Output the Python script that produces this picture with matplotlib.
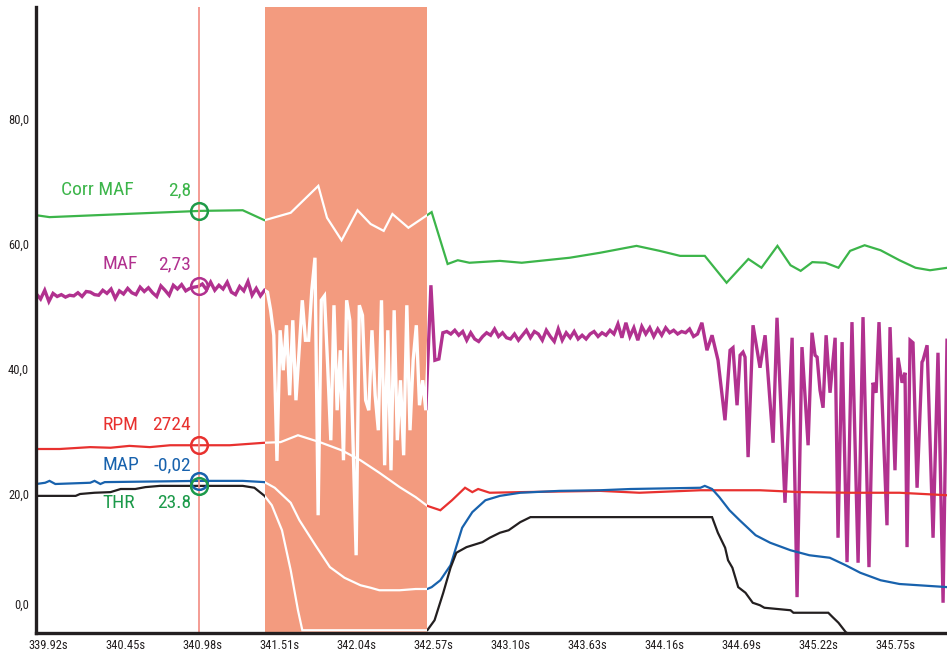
#Gráfico de log do motor: Corr MAF, MAF, RPM, MAP e THR com cursor e faixa destacada
import matplotlib.pyplot as plt
import matplotlib.transforms as mtransforms
from matplotlib import font_manager
import numpy as np

#Procura uma fonte estreita instalada
nomes = {f.name for f in font_manager.fontManager.ttflist}
estreitas = [n for n in ['Liberation Sans Narrow', 'Roboto Condensed', 'Open Sans Condensed',
                         'DejaVu Sans Condensed', 'Noto Sans Condensed'] if n in nomes]
if estreitas:
    plt.rcParams['font.family'] = [estreitas[0], 'DejaVu Sans']
else:
    plt.rcParams['font.family'] = ['DejaVu Sans']
    plt.rcParams['font.stretch'] = 'condensed'

#Eixos
x_ticks = [339.92, 340.45, 340.98, 341.51, 342.04, 342.57, 343.10, 343.63, 344.16, 344.69, 345.22, 345.75]
x_labels = ['339.92s', '340.45s', '340.98s', '341.51s', '342.04s', '342.57s',
            '343.10s', '343.63s', '344.16s', '344.69s', '345.22s', '345.75s']
y_ticks = [0, 20, 40, 60, 80]
y_labels = ['0,0', '20,0', '40,0', '60,0', '80,0']

cursor_t = 340.96
faixa = (341.41, 342.53)

#Corr MAF
corr_t = [339.84, 339.93, 340.97, 341.26, 341.41, 341.59, 341.78, 341.84, 341.94, 342.05, 342.14,
          342.23, 342.29, 342.40, 342.56, 342.67, 342.74, 342.82, 343.03, 343.18, 343.51, 343.72,
          343.97, 344.13, 344.27, 344.44, 344.59, 344.74, 344.83, 344.94, 345.03, 345.10, 345.18,
          345.27, 345.36, 345.44, 345.54, 345.65, 345.78, 345.89, 345.99, 346.11]
corr_v = [64.6, 64.3, 65.3, 65.4, 63.8, 65.0, 69.3, 64.2, 60.6, 65.4, 63.2,
          62.1, 64.8, 62.6, 65.1, 56.8, 57.4, 57.0, 57.3, 57.0, 57.8, 58.6,
          59.7, 58.9, 58.1, 58.1, 53.8, 57.6, 56.2, 59.7, 56.6, 55.7, 57.1,
          57.0, 56.2, 58.9, 59.8, 59.0, 57.4, 56.2, 55.8, 56.2]

#MAF (trechos)
maf_ini = [52.0, 51.2, 52.6, 50.8, 52.1, 51.6, 51.9, 51.5, 51.8, 51.7,
           52.2, 51.6, 52.4, 52.3, 51.9, 51.8, 52.6, 52.1, 52.8, 51.3,
           52.5, 52.0, 52.9, 52.2, 51.9, 53.1, 52.4, 53.0, 52.2, 51.6,
           53.3, 52.6, 51.8, 53.4, 52.8, 53.5, 52.5, 52.9, 53.1, 53.2,
           53.6, 52.7, 53.9, 52.6, 53.4, 52.8, 53.9, 52.3, 51.9, 53.2,
           52.5, 54.0, 51.8, 52.9, 51.7, 52.6]
maf_faixa = [52.3, 49.4, 45.4, 25.3, 46.2, 39.8, 47.0, 35.8, 47.8, 35.0,
             43.0, 51.0, 44.6, 44.6, 52.6, 57.8, 16.6, 51.0, 51.7, 40.6,
             28.6, 50.2, 33.4, 43.0, 25.4, 51.0, 47.8, 28.6, 10.2, 50.2,
             48.6, 35.0, 33.4, 46.2, 35.8, 30.2, 51.0, 24.6, 46.2, 23.8,
             49.4, 28.6, 38.2, 26.2, 50.2, 30.2, 41.4, 47.0, 34.2, 38.2, 33.4]
maf_meio = [53.4, 41.4, 41.6, 45.8, 46.0, 45.6, 46.2, 45.4, 46.0, 44.6,
            45.8, 44.8, 44.4, 45.2, 45.8, 45.4, 46.4, 45.2, 45.8, 45.0,
            44.8, 45.6, 44.6, 45.4, 46.2, 45.0, 46.0, 45.6, 44.6, 46.2,
            45.2, 44.4, 46.4, 44.6, 45.8, 45.0, 46.0, 44.8, 45.4, 44.8,
            45.6, 46.0, 45.2, 45.8, 45.4, 46.2, 45.6, 47.2, 45.0, 47.4,
            45.2, 46.6, 44.6, 46.8, 45.6, 46.6, 45.2, 46.4, 45.4, 46.6,
            45.8, 46.2, 45.6, 46.0, 45.8, 46.4, 45.2, 45.6]
maf_fim_t = [344.42, 344.455, 344.49, 344.531, 344.579, 344.614, 344.634, 344.662, 344.683, 344.703,
             344.717, 344.738, 344.772, 344.82, 344.855, 344.91, 344.937, 344.992, 345.041, 345.075,
             345.109, 345.151, 345.178, 345.199, 345.213, 345.233, 345.254, 345.275, 345.302, 345.337,
             345.357, 345.385, 345.419, 345.453, 345.495, 345.529, 345.57, 345.598, 345.619, 345.639,
             345.694, 345.715, 345.749, 345.77, 345.798, 345.818, 345.832, 345.853, 345.873, 345.901,
             345.935, 345.942, 345.97, 346.011, 346.045, 346.08, 346.107]
maf_fim_v = [47.4, 43.0, 45.4, 41.4, 31.8, 43.0, 43.4, 34.2, 42.2, 42.7,
             41.9, 25.9, 47.0, 40.2, 45.4, 28.2, 48.2, 18.6, 45.0, 3.5,
             43.5, 27.8, 45.8, 42.2, 41.9, 36.6, 33.8, 45.4, 36.2, 45.0,
             13.0, 44.3, 9.1, 47.5, 9.0, 48.3, 8.3, 37.8, 36.2, 47.5,
             15.0, 46.7, 23.8, 41.8, 37.8, 39.4, 11.5, 44.6, 44.2, 21.0,
             41.1, 41.4, 43.8, 13.0, 42.6, 2.6, 44.6]

maf_t = np.concatenate([np.linspace(339.84, 341.41, len(maf_ini)),
                        np.linspace(341.43, 342.52, len(maf_faixa)),
                        np.linspace(342.555, 344.39, len(maf_meio)),
                        maf_fim_t])
maf_v = np.concatenate([maf_ini, maf_faixa, maf_meio, maf_fim_v])

#RPM
rpm_t = [339.84, 340.00, 340.21, 340.35, 340.48, 340.62, 340.76, 340.97, 341.17, 341.41, 341.52,
         341.64, 341.79, 341.94, 342.07, 342.20, 342.34, 342.45, 342.53, 342.62, 342.70, 342.79,
         342.84, 342.88, 342.96, 343.17, 343.72, 343.99, 344.41, 344.82, 345.10, 345.44, 345.78, 346.11]
rpm_v = [27.2, 27.2, 27.5, 27.4, 27.7, 27.5, 27.8, 27.8, 27.8, 28.2, 28.3,
         29.4, 28.3, 27.0, 25.4, 23.4, 21.1, 19.5, 18.1, 17.4, 19.0, 21.0,
         20.3, 20.8, 20.2, 20.3, 20.5, 20.2, 20.6, 20.6, 20.3, 20.2, 20.2, 19.8]

#MAP
map_t = [339.84, 339.90, 339.93, 339.97, 340.21, 340.24, 340.28, 340.31, 340.97, 341.26, 341.41,
         341.48, 341.59, 341.65, 341.76, 341.86, 341.96, 342.07, 342.14, 342.20, 342.34, 342.45,
         342.53, 342.56, 342.62, 342.69, 342.77, 342.84, 342.93, 343.03, 343.17, 343.44, 343.72,
         343.93, 344.41, 344.44, 344.49, 344.54, 344.61, 344.68, 344.79, 344.89, 345.03, 345.16,
         345.30, 345.41, 345.51, 345.65, 345.78, 346.11]
map_v = [21.6, 21.8, 22.1, 21.6, 21.8, 22.1, 21.6, 21.9, 22.1, 22.1, 21.9,
         21.0, 18.6, 15.8, 11.8, 8.3, 6.6, 5.4, 5.0, 4.6, 4.6, 4.8,
         4.8, 5.1, 6.2, 8.6, 14.6, 17.1, 19.0, 19.7, 20.2, 20.5, 20.6,
         20.8, 21.0, 21.3, 20.8, 19.5, 17.4, 15.8, 13.4, 12.2, 11.0, 10.2,
         9.8, 8.6, 7.4, 6.2, 5.6, 5.1]

#THR
thr_t = [339.84, 340.11, 340.14, 340.24, 340.35, 340.42, 340.52, 340.59, 340.69, 340.97, 341.26,
         341.34, 341.41, 341.46, 341.53, 341.59, 341.64, 341.67, 342.53, 342.58, 342.64, 342.69,
         342.73, 342.80, 342.91, 342.96, 343.03, 343.09, 343.17, 343.24, 343.36, 344.49, 344.53,
         344.58, 344.60, 344.63, 344.67, 344.72, 344.77, 344.82, 344.85, 345.03, 345.05, 345.29,
         345.32, 345.36, 345.41, 345.43, 346.11]
thr_v = [19.7, 19.7, 20.0, 20.2, 20.3, 20.8, 20.8, 21.1, 21.3, 21.3, 21.3,
         21.0, 19.7, 18.2, 14.2, 7.8, 1.4, -1.8, -1.8, -0.2, 4.2, 8.2,
         10.6, 11.5, 12.3, 13.0, 13.8, 14.2, 15.5, 16.3, 16.3, 16.3, 13.8,
         11.4, 9.4, 8.2, 5.1, 4.2, 2.6, 2.2, 1.8, 1.4, 1.0, 1.0,
         0.3, -0.6, -2.1, -2.4, -2.4]

#nome, tempo, valores, cor da linha, largura, cor do cursor, cor do texto, valor, deslocamentos do rótulo
series = [
    ('Corr MAF', corr_t, corr_v, '#3cb54a', 1.6, '#1f9a48', '#3cb54a', '2,8', -138, 21),
    ('MAF', maf_t, maf_v, '#b1318f', 2.4, '#b1318f', '#b1318f', '2,73', -97, 22),
    ('RPM', rpm_t, rpm_v, '#e8312f', 1.6, '#e8312f', '#e8312f', '2724', -97, 20),
    ('MAP', map_t, map_v, '#1862ad', 1.6, '#1862ad', '#1862ad', '-0,02', -97, 16),
    ('THR', thr_t, thr_v, '#231f20', 1.6, '#1c9a4a', '#1c9a4a', '23.8', -97, -17),
]

fig = plt.figure(figsize=(9.47, 6.5), dpi=100)
ax = fig.add_axes([36 / 947, 17 / 650, 1 - 36 / 947, 626 / 650])

span = ax.axvspan(faixa[0], faixa[1], color='#f39b7f', lw=0, zorder=3)
ax.axvline(cursor_t, color='#f28b82', lw=1.2, zorder=2.5)

for nome, t, v, cor, lw, cor_cur, cor_txt, valor, dx, dy in series:
    ax.plot(t, v, color=cor, lw=lw, zorder=2, solid_joinstyle='miter')
    #dentro da faixa a linha fica branca
    branca, = ax.plot(t, v, color='white', lw=lw, zorder=4, solid_joinstyle='miter')
    branca.set_clip_path(span)
    yc = np.interp(cursor_t, t, v)
    ax.plot([cursor_t], [yc], 'o', ms=12, mfc='none', mec=cor_cur, mew=1.8, zorder=6)
    ax.annotate(nome, (cursor_t, yc), xytext=(dx, dy), textcoords='offset pixels',
                ha='left', va='center', fontsize=14, color=cor_txt, zorder=7)
    ax.annotate(valor, (cursor_t, yc), xytext=(-8, dy), textcoords='offset pixels',
                ha='right', va='center', fontsize=14, color=cor_txt, zorder=7)

ax.set_xlim(339.837, 346.107)
ax.set_ylim(-2.24, 97.92)

ax.set_xticks(x_ticks)
ax.set_xticklabels(x_labels)
ax.set_yticks(y_ticks)
ax.set_yticklabels(y_labels)
ax.tick_params(length=0, labelsize=9, colors='#231f20')
ax.tick_params(axis='x', pad=4)
ax.tick_params(axis='y', pad=5)

#rótulo do zero fica um pouco acima
lbl0 = ax.get_yticklabels()[0]
lbl0.set_transform(lbl0.get_transform() + mtransforms.ScaledTranslation(0, 15 / 100, fig.dpi_scale_trans))

for s in ['top', 'right']:
    ax.spines[s].set_visible(False)
for s in ['left', 'bottom']:
    ax.spines[s].set_linewidth(2.4)
    ax.spines[s].set_color('#231f20')
    ax.spines[s].set_zorder(8)

fig.savefig('out.png', dpi=100)
